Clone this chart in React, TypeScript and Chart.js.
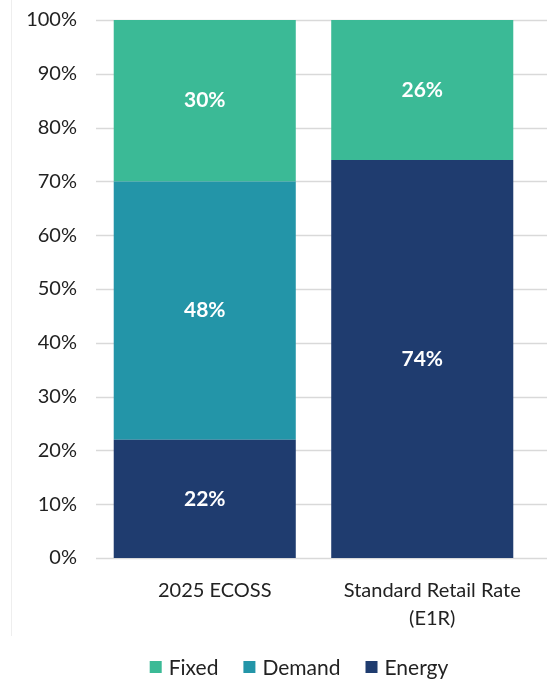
import React, { useEffect, useRef } from "react";
import { Chart, registerables } from "chart.js";

Chart.register(...registerables);

const categories: (string | string[])[] = ["2025 ECOSS", ["Standard Retail Rate", "(E1R)"]];
const energy = [22, 74];
const demand = [48, 0];
const fixed = [30, 26];
const yTicks = [0, 10, 20, 30, 40, 50, 60, 70, 80, 90, 100];
const legendOrder = ["Fixed", "Demand", "Energy"];

const FONT = "Lato, 'Open Sans', sans-serif";

const labelPlugin = {
  id: "segLabels",
  afterDatasetsDraw(chart: any) {
    const ctx = chart.ctx;
    ctx.save();
    ctx.font = `bold 21px ${FONT}`;
    ctx.fillStyle = "#ffffff";
    ctx.textAlign = "center";
    ctx.textBaseline = "middle";
    chart.data.datasets.forEach((ds: any, di: number) => {
      const meta = chart.getDatasetMeta(di);
      meta.data.forEach((bar: any, i: number) => {
        const v = ds.data[i];
        if (!v) return;
        const y = (bar.y + bar.base) / 2;
        ctx.fillText(`${v}%`, bar.x, y);
      });
    });
    ctx.restore();
  },
};

const legendPlugin = {
  id: "customLegend",
  afterDraw(chart: any) {
    const ctx = chart.ctx;
    ctx.save();
    ctx.font = `21px ${FONT}`;
    ctx.textBaseline = "middle";
    const box = 12;
    const gapText = 7;
    const gapItem = 25;
    const items = legendOrder.map((name) => {
      const ds = chart.data.datasets.find((d: any) => d.label === name);
      return { name, color: ds.backgroundColor, w: ctx.measureText(name).width };
    });
    const total = items.reduce((a: number, it: any) => a + box + gapText + it.w, 0) + gapItem * (items.length - 1);
    const cy = 667;
    let x = 299 - total / 2;
    items.forEach((it: any) => {
      ctx.fillStyle = it.color;
      ctx.fillRect(x, cy - box / 2, box, box);
      x += box + gapText;
      ctx.fillStyle = "#222222";
      ctx.fillText(it.name, x, cy + 1);
      x += it.w + gapItem;
    });
    ctx.restore();
  },
};

const gridPlugin = {
  id: "extGrid",
  beforeDatasetsDraw(chart: any) {
    const ctx = chart.ctx;
    const y = chart.scales.y;
    ctx.save();
    ctx.strokeStyle = "#d9d9d9";
    ctx.lineWidth = 1.5;
    yTicks.forEach((t) => {
      const py = Math.round(y.getPixelForValue(t)) + 0.5;
      ctx.beginPath();
      ctx.moveTo(chart.chartArea.left, py);
      ctx.lineTo(chart.width, py);
      ctx.stroke();
    });
    ctx.strokeStyle = "#eeeeee";
    ctx.lineWidth = 1;
    ctx.beginPath();
    ctx.moveTo(11.5, 0);
    ctx.lineTo(11.5, 636);
    ctx.stroke();
    ctx.restore();
  },
};

export default function App() {
  const ref = useRef<HTMLCanvasElement>(null);
  useEffect(() => {
    if (!ref.current) return;
    const chart = new Chart(ref.current, {
      type: "bar",
      data: {
        labels: categories,
        datasets: [
          { label: "Energy", data: energy, backgroundColor: "#1F3C6F", borderWidth: 0 },
          { label: "Demand", data: demand, backgroundColor: "#2395A8", borderWidth: 0 },
          { label: "Fixed", data: fixed, backgroundColor: "#3BBA96", borderWidth: 0 },
        ],
      },
      options: {
        responsive: false,
        animation: false,
        layout: { padding: { left: 0, right: 16, top: 20, bottom: 31 } },
        datasets: { bar: { categoryPercentage: 0.837, barPercentage: 1 } },
        plugins: {
          tooltip: { enabled: false },
          legend: { display: false },
        },
        scales: {
          x: {
            stacked: true,
            grid: { display: false, drawTicks: false },
            border: { display: false },
            ticks: {
              font: { family: FONT, size: 20, lineHeight: 1.4 },
              color: "#222222",
              padding: 19,
              labelOffset: 10,
            },
          },
          y: {
            stacked: true,
            min: 0,
            max: 100,
            grid: { display: false, drawTicks: false },
            border: { display: false },
            afterBuildTicks: (s: any) => {
              s.ticks = yTicks.map((v) => ({ value: v }));
            },
            afterFit: (s: any) => {
              s.width = 96;
              s.paddingTop = 0;
              s.paddingBottom = 0;
            },
            ticks: {
              stepSize: 10,
              font: { family: FONT, size: 20 },
              color: "#222222",
              padding: 19,
              callback: (v: any) => `${v}%`,
            },
          },
        },
      },
      plugins: [gridPlugin, labelPlugin, legendPlugin],
    });
    return () => chart.destroy();
  }, []);
  return (
    <div style={{ position: "fixed", left: 0, top: 0, width: 547, height: 683, background: "#fff" }}>
      <canvas ref={ref} width={547} height={683} style={{ display: "block" }} />
    </div>
  );
}
